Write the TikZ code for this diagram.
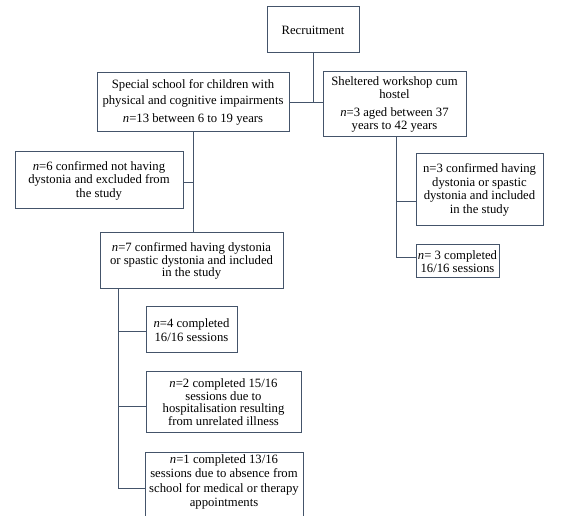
\documentclass[tikz,border=0pt]{standalone}
\usepackage{fontspec}
\setmainfont{Liberation Serif}
\definecolor{linecol}{RGB}{68,84,106}
\tikzset{
  box/.style={draw=linecol, line width=1pt, inner sep=0pt, align=center,
    font=\fontsize{12.7}{12.6}\selectfont, text=black},
  conn/.style={draw=linecol, line width=1pt}
}
\begin{document}
\begin{tikzpicture}[x=1pt,y=-1pt]
\useasboundingbox (0,0) rectangle (566,516);
\fill[white] (0,0) rectangle (566,516);
\clip (0,0) rectangle (566,516);

\node[box, minimum width=92pt, minimum height=46pt] (rec) at (313,30) {Recruitment};
\node[box, minimum width=192pt, minimum height=59pt, font=\fontsize{12.7}{15.5}\selectfont] (sch) at (193,102.5)
  {Special school for children with\\physical and cognitive impairments\\[3pt]\textit{n}=13 between 6 to 19 years};
\node[box, minimum width=143pt, minimum height=65pt] (shel) at (394.5,104.5)
  {Sheltered workshop cum\\hostel\\[6pt]\textit{n}=3 aged between 37\\years to 42 years};
\node[box, minimum width=168pt, minimum height=57pt, font=\fontsize{12.7}{13.5}\selectfont] (n6) at (99,180.5)
  {\textit{n}=6 confirmed not having\\dystonia and excluded from\\the study};
\node[box, minimum width=183pt, minimum height=56pt] (n7) at (191.5,261)
  {\textit{n}=7 confirmed having dystonia\\or spastic dystonia and included\\in the study};
\node[box, minimum width=127pt, minimum height=72pt, font=\fontsize{12.7}{13.4}\selectfont] (n3a) at (479.5,190)
  {n=3 confirmed having\\dystonia or spastic\\dystonia and included\\in the study};
\node[box, minimum width=83pt, minimum height=33pt] (n3b) at (457.5,261.5)
  {\textit{n}= 3 completed\\16/16 sessions};
\node[box, minimum width=91pt, minimum height=46pt, font=\fontsize{12.7}{14.5}\selectfont] (n4) at (191.5,330)
  {\textit{n}=4 completed\\16/16 sessions};
\node[box, minimum width=155pt, minimum height=60pt] (n2) at (223.5,402)
  {\textit{n}=2 completed 15/16\\sessions due to\\hospitalisation resulting\\from unrelated illness};
\node[box, minimum width=158pt, minimum height=72pt, font=\fontsize{12.7}{14.5}\selectfont] (n1) at (224,488)
  {\textit{n}=1 completed 13/16\\sessions due to absence from\\school for medical or therapy\\appointments\\\mbox{}};

\draw[conn] (rec.south) -- (rec.south |- sch.east);
\draw[conn] (sch.east) -- (sch.east -| shel.west);
\draw[conn] (sch.south) -- (sch.south |- n7.north);
\draw[conn] ([yshift=-2.5pt]n6.east) -- ([yshift=-2.5pt]n6.east -| sch.south);
\coordinate (b7) at ([xshift=-73.5pt]n7.south);
\draw[conn] (b7) |- ([yshift=-2pt]n4.west);
\draw[conn] (b7) |- ([yshift=-5pt]n2.west);
\draw[conn] (b7) |- (n1.west);
\coordinate (bs) at ([xshift=1.5pt]shel.south);
\draw[conn] (bs) |- ([yshift=-12pt]n3a.west);
\draw[conn] (bs) |- ([yshift=3.5pt]n3b.west);
\end{tikzpicture}
\end{document}
